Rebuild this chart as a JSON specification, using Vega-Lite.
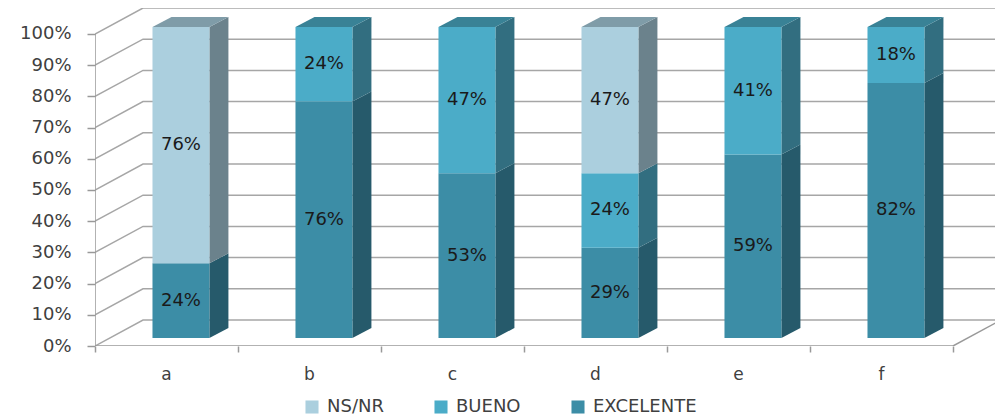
{
"$schema":"https://vega.github.io/schema/vega-lite/v6.json",
"width":900,"height":338,
"autosize":{"type":"none"},
"padding":{"left":95,"top":8,"right":0,"bottom":69},
"background":"white",
"config":{"view":{"stroke":null},"font":"DejaVu Sans"},
"datasets":{
 "shares":[
  {"cat":"a","series":"EXCELENTE","rank":0,"share":0.24},
  {"cat":"a","series":"NS/NR","rank":2,"share":0.76},
  {"cat":"b","series":"EXCELENTE","rank":0,"share":0.76},
  {"cat":"b","series":"BUENO","rank":1,"share":0.24},
  {"cat":"c","series":"EXCELENTE","rank":0,"share":0.53},
  {"cat":"c","series":"BUENO","rank":1,"share":0.47},
  {"cat":"d","series":"EXCELENTE","rank":0,"share":0.29},
  {"cat":"d","series":"BUENO","rank":1,"share":0.24},
  {"cat":"d","series":"NS/NR","rank":2,"share":0.47},
  {"cat":"e","series":"EXCELENTE","rank":0,"share":0.59},
  {"cat":"e","series":"BUENO","rank":1,"share":0.41},
  {"cat":"f","series":"EXCELENTE","rank":0,"share":0.82},
  {"cat":"f","series":"BUENO","rank":1,"share":0.18}
 ],
 "levels":[{"v":0},{"v":0.1},{"v":0.2},{"v":0.3},{"v":0.4},{"v":0.5},{"v":0.6},{"v":0.7},{"v":0.8},{"v":0.9},{"v":1}],
 "frame":[
  {"x0":0,"y0":0,"x1":6,"y1":0},
  {"x0":0,"y0":0,"x1":0,"y1":1},
  {"x0":6,"y0":0,"x1":6.3357,"y1":0.0833}
 ]
},
"layer":[
 {"data":{"name":"levels"},
  "transform":[
   {"calculate":"[0,1,2]","as":"p"},{"flatten":["p"]},
   {"calculate":"[0,0.3357,6.3357][datum.p]","as":"gx"},
   {"calculate":"datum.v+(datum.p>0?0.0833:0)","as":"gy"}],
  "mark":{"type":"line","color":"#a6a6a6","strokeWidth":1.5,"clip":true},
  "encoding":{
   "x":{"field":"gx","type":"quantitative","scale":{"domain":[0,6.2937],"nice":false,"zero":false},
     "axis":{"title":null,"values":[0,1,2,3,4,5,6],"grid":false,"domain":false,"tickSize":6,"tickWidth":1.5,"tickColor":"#999999","labelExpr":"['a','b','c','d','e','f',''][datum.value]","labelOffset":71,"labelPadding":14,"labelFontSize":17,"labelColor":"#404040","labelFlush":false,"labelOverlap":false}},
   "y":{"field":"gy","type":"quantitative","scale":{"domain":[0,1.0833],"nice":false,"zero":false},
     "axis":{"title":null,"values":[0,0.1,0.2,0.3,0.4,0.5,0.6,0.7,0.8,0.9,1],"tickCount":11,"format":".0%","grid":false,"domain":false,"tickSize":8,"tickWidth":1.5,"tickColor":"#999999","labelPadding":16,"labelFontSize":18,"labelColor":"#404040","labelOverlap":false,"labelFlush":false}},
   "detail":{"field":"v"},
   "order":{"field":"p"}}},
 {"data":{"name":"frame"},
  "mark":{"type":"rule","color":"#999999","strokeWidth":1.5,"clip":true},
  "encoding":{
   "x":{"field":"x0","type":"quantitative","title":null},"x2":{"field":"x1"},
   "y":{"field":"y0","type":"quantitative","title":null},"y2":{"field":"y1"}}},
 {"data":{"name":"shares"},
  "transform":[
   {"stack":"share","groupby":["cat"],"sort":[{"field":"rank"}],"as":["b","t"]},
   {"calculate":"indexof('abcdef',datum.cat)","as":"i"},
   {"calculate":"[0,1]","as":"p"},{"flatten":["p"]},
   {"calculate":"datum.i+0.8+datum.p*0.133","as":"sx"},
   {"calculate":"0.0256+0.997*datum.b+datum.p*0.032","as":"s0"},
   {"calculate":"0.0256+0.997*datum.t+datum.p*0.032","as":"s1"}],
  "mark":{"type":"area","interpolate":"linear"},
  "encoding":{
   "x":{"field":"sx","type":"quantitative","title":null},
   "y":{"field":"s1","type":"quantitative","title":null,"stack":null},"y2":{"field":"s0"},
   "detail":[{"field":"cat"}],
   "color":{"field":"series","type":"nominal","legend":null,"scale":{"domain":["NS/NR","BUENO","EXCELENTE"],"range":["#6b828c","#326e80","#265a6b"]}}}},
 {"data":{"name":"shares"},
  "transform":[
   {"stack":"share","groupby":["cat"],"sort":[{"field":"rank"}],"as":["b","t"]},
   {"filter":"datum.t>0.999"},
   {"calculate":"indexof('abcdef',datum.cat)","as":"i"},
   {"calculate":"[0,1,2,3]","as":"p"},{"flatten":["p"]},
   {"calculate":"datum.i+[0.402,0.535,0.8,0.933][datum.p]","as":"tx"},
   {"calculate":"1.0226+[0,0,0,0.032][datum.p]","as":"t0"},
   {"calculate":"1.0226+[0,0.032,0.032,0.032][datum.p]","as":"t1"}],
  "mark":{"type":"area","interpolate":"linear"},
  "encoding":{
   "x":{"field":"tx","type":"quantitative","title":null},
   "y":{"field":"t1","type":"quantitative","title":null,"stack":null},"y2":{"field":"t0"},
   "detail":[{"field":"cat"}],
   "color":{"field":"series","type":"nominal","legend":null,"scale":{"domain":["NS/NR","BUENO","EXCELENTE"],"range":["#7f9ca8","#398296","#2f7286"]}}}},
 {"data":{"name":"shares"},
  "transform":[
   {"stack":"share","groupby":["cat"],"sort":[{"field":"rank"}],"as":["b","t"]},
   {"calculate":"indexof('abcdef',datum.cat)","as":"i"},
   {"calculate":"datum.i+0.402","as":"fx0"},{"calculate":"datum.i+0.8","as":"fx1"},
   {"calculate":"0.0256+0.997*datum.b","as":"f0"},{"calculate":"0.0256+0.997*datum.t","as":"f1"}],
  "mark":{"type":"rect"},
  "encoding":{
   "x":{"field":"fx0","type":"quantitative","title":null},"x2":{"field":"fx1"},
   "y":{"field":"f0","type":"quantitative","title":null},"y2":{"field":"f1"},
   "color":{"field":"series","type":"nominal","scale":{"domain":["NS/NR","BUENO","EXCELENTE"],"range":["#abcfde","#4bacc8","#3c8da6"]},
     "legend":{"title":null,"orient":"none","legendX":208,"legendY":390,"direction":"horizontal","symbolType":"square","symbolSize":170,"symbolStrokeWidth":0,"labelFontSize":18,"labelColor":"#404040","columnPadding":48,"labelOffset":6}}}},
 {"data":{"name":"shares"},
  "transform":[
   {"stack":"share","groupby":["cat"],"sort":[{"field":"rank"}],"as":["b","t"]},
   {"calculate":"indexof('abcdef',datum.cat)+0.601","as":"lx"},
   {"calculate":"0.0256+0.997*(datum.b+datum.t)/2","as":"ly"}],
  "mark":{"type":"text","fontSize":18,"color":"#1a1a1a","align":"center","baseline":"middle"},
  "encoding":{
   "x":{"field":"lx","type":"quantitative","title":null},
   "y":{"field":"ly","type":"quantitative","title":null},
   "text":{"field":"share","type":"quantitative","format":".0%"}}}
],
"resolve":{"scale":{"color":"independent"}}
}
